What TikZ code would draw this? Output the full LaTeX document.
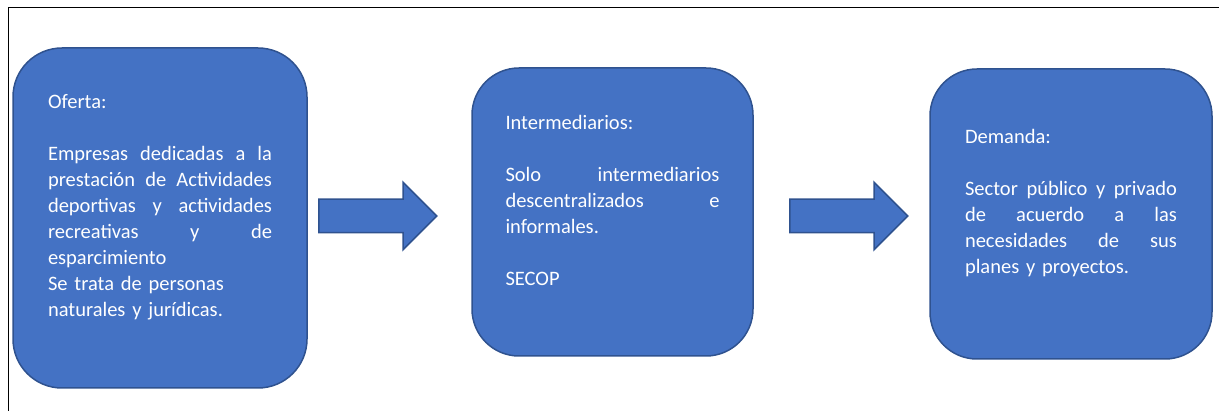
\documentclass[tikz,border=0pt]{standalone}
\usepackage{fontspec}
\setmainfont{Carlito}
\usetikzlibrary{shapes.arrows}
\definecolor{azul}{HTML}{4472C4}
\definecolor{borde}{HTML}{2F528F}
\newcommand{\linea}[2]{\leavevmode\hbox to #1{#2}}
\begin{document}
\begin{tikzpicture}[x=1pt, y=-1pt,
caja/.style={draw=borde, fill=azul, line width=1.5pt, rounded corners=47pt, inner sep=0pt},
texto/.style={text=white, align=left, inner sep=0pt, font=\fontsize{20.5pt}{26pt}\selectfont},
flecha/.style={single arrow, draw=borde, fill=azul, line width=1.5pt, inner xsep=0pt, inner ysep=16pt, single arrow head extend=17pt, minimum height=118pt, anchor=west}]
\useasboundingbox (0,0) rectangle (1219,411);
\coordinate (marco1) at (8,411);
\coordinate (marco2) at (8,8);
\coordinate (marco3) at (1219,8);
\draw[line width=1pt] (marco1) -- (marco2) -- (marco3);

\node[caja, minimum width=294pt, minimum height=340pt, rounded corners=49pt] (oferta) at (160,218) {};
\node[caja, minimum width=281pt, minimum height=288pt] (inter) at (612.5,212) {};
\node[caja, minimum width=282pt, minimum height=290pt] (demanda) at (1071,214) {};

\node[flecha] (flecha1) at (318,216) {};
\node[flecha] (flecha2) at (789,216) {};

\node[texto, text width=224pt] (ofertatxt) at ([yshift=11pt]oferta.center) {Oferta:\\[26pt]
	\linea{224pt}{Empresas\hfill dedicadas\hfill a\hfill la}\\
	\linea{224pt}{prestación\hfill de\hfill Actividades}\\
	\linea{224pt}{deportivas\hfill y\hfill actividades}\\
	\linea{224pt}{recreativas\hfill y\hfill de}\\
	esparcimiento\\
	Se trata de personas\\
	naturales y jurídicas.};
\node[texto, text width=214pt] (intertxt) at ([yshift=12pt]inter.center) {Intermediarios:\\[26pt]
	\linea{214pt}{Solo\hfill intermediarios}\\
	\linea{214pt}{descentralizados\hfill e}\\
	informales.\\[26pt]
	SECOP};
\node[texto, text width=212pt] (demandatxt) at ([yshift=11pt]demanda.center) {Demanda:\\[26pt]
	\linea{212pt}{Sector\hfill público\hfill y\hfill privado}\\
	\linea{212pt}{de\hfill acuerdo\hfill a\hfill las}\\
	\linea{212pt}{necesidades\hfill de\hfill sus}\\
	planes y proyectos.};
\end{tikzpicture}
\end{document}
